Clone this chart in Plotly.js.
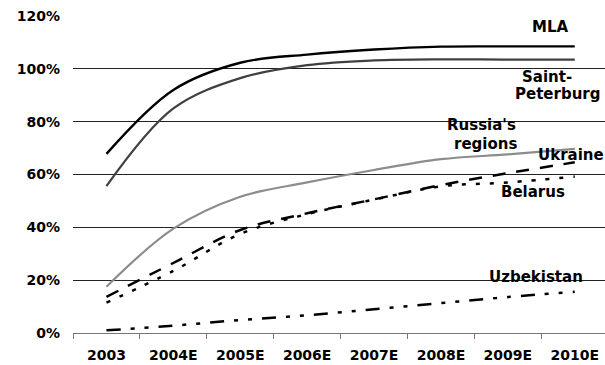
<!DOCTYPE html>
<html>
<head>
<meta charset="utf-8">
<script src="https://cdn.plot.ly/plotly-3.0.1.min.js"></script>
<style>
  html, body { margin: 0; padding: 0; background: #fff; overflow: hidden; }
  #chart { width: 605px; height: 365px; }
</style>
</head>
<body>
<div id="chart"></div>
<script>
// Penetration by market, 2003 actual and 2004-2010 estimates (%)
const years = ['2003', '2004E', '2005E', '2006E', '2007E', '2008E', '2009E', '2010E'];

const mla          = [67.8, 92.0, 102.3, 105.4, 107.3, 108.4, 108.5, 108.5];
const saintPeterburg = [55.6, 85.0, 96.5, 101.4, 103.2, 103.6, 103.5, 103.5];
const russiaRegions = [17.5, 39.5, 51.6, 57.0, 61.7, 65.8, 67.6, 69.7];
const ukraine      = [13.7, 26.5, 39.0, 45.3, 50.6, 56.0, 60.5, 64.6];
const belarus      = [11.5, 23.5, 37.5, 45.0, 50.5, 55.5, 57.0, 59.2];
const uzbekistan   = [1.0, 2.8, 4.9, 6.7, 9.0, 11.3, 13.6, 15.6];

const yTicks = [0, 20, 40, 60, 80, 100, 120];
const yTickText = yTicks.map(v => v + '%');

function series(name, values, color, width, dash) {
  return {
    type: 'scatter', mode: 'lines', name: name,
    x: years, y: values,
    line: { color: color, width: width, dash: dash, shape: 'spline', smoothing: 1 },
    hoverinfo: 'skip'
  };
}

const traces = [
  series('Uzbekistan', uzbekistan, '#000000', 2.5, '14px,10px,4px,10px,4px,10px'),
  series('Belarus', belarus, '#000000', 2.5, '4px,10px'),
  series('Ukraine', ukraine, '#000000', 2.5, '13px,11px'),
  series("Russia's regions", russiaRegions, '#8c8c8c', 2.2, 'solid'),
  series('Saint-Peterburg', saintPeterburg, '#404040', 2.2, 'solid'),
  series('MLA', mla, '#000000', 2.4, 'solid')
];

const labelFont = { family: 'DejaVu Sans', size: 15, color: '#000000', weight: 'bold' };
function label(text, x, y) {
  return { text: '<b>' + text + '</b>', x: x, y: y, xref: 'x', yref: 'y',
           showarrow: false, xanchor: 'center', yanchor: 'middle', font: labelFont };
}

const layout = {
  width: 605, height: 365,
  margin: { l: 73, r: 0, t: 16, b: 32, pad: 0 },
  paper_bgcolor: '#ffffff', plot_bgcolor: '#ffffff',
  showlegend: false,
  font: { family: 'DejaVu Sans', size: 14, color: '#000000' },
  xaxis: {
    type: 'category',
    range: [-0.5, 7.452],
    tickson: 'boundaries',
    ticks: 'outside', ticklen: 5, tickcolor: '#777777', tickwidth: 1,
    ticklabelstandoff: 9,
    showline: true, linecolor: '#777777', linewidth: 1,
    showgrid: false, zeroline: false,
    tickfont: { family: 'DejaVu Sans', size: 14, color: '#000000', weight: 'bold' },
    fixedrange: true
  },
  yaxis: {
    range: [0, 120],
    tickvals: yTicks, ticktext: yTickText,
    ticks: '', ticklabelstandoff: 12,
    showgrid: true, gridcolor: '#222222', gridwidth: 1,
    zeroline: false, showline: false,
    tickfont: { family: 'DejaVu Sans', size: 14, color: '#000000', weight: 'bold' },
    fixedrange: true
  },
  annotations: [
    label('MLA', 6.63, 115.8),
    label('Saint-', 6.585, 96.9),
    label('Peterburg', 6.735, 90.3),
    label("Russia's", 5.61, 78.7),
    label('regions', 5.66, 71.5),
    label('Ukraine', 6.95, 67.3),
    label('Belarus', 6.38, 53.5),
    label('Uzbekistan', 6.42, 21.3)
  ]
};

Plotly.newPlot('chart', traces, layout, { displayModeBar: false, staticPlot: true });
</script>
</body>
</html>
